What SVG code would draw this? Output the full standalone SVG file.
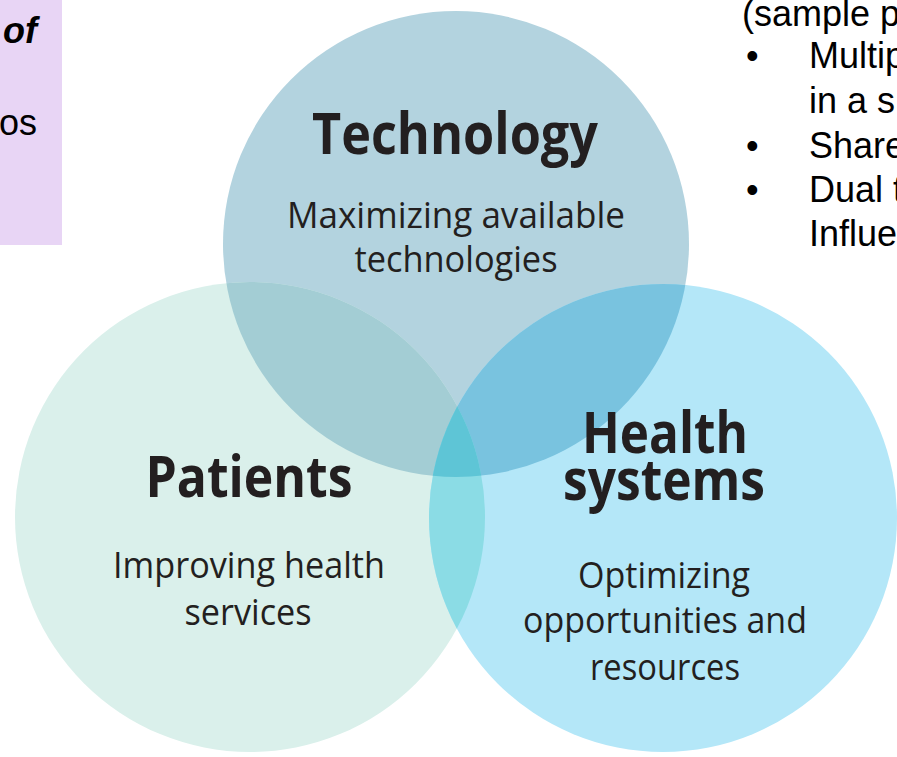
<svg xmlns="http://www.w3.org/2000/svg" width="897" height="757" viewBox="0 0 897 757">
<style>
.h{font-family:"Open Sans","Noto Sans",sans-serif;font-weight:700;font-size:58px;fill:#231f20;text-anchor:middle}
.s{font-family:"Open Sans","Noto Sans",sans-serif;font-weight:400;font-size:36px;fill:#231f20;text-anchor:middle}
.a{font-family:"Liberation Sans",Arial,sans-serif;font-size:36px;fill:#000}
</style>
<defs>
<clipPath id="cT"><circle cx="456" cy="244" r="233"/></clipPath>
<clipPath id="cP"><circle cx="250" cy="517" r="235"/></clipPath>
<clipPath id="cH"><circle cx="663" cy="518" r="234"/></clipPath>
</defs>
<rect width="897" height="757" fill="#ffffff"/>
<g id="side-left">
<rect x="0" y="0" width="62" height="245" fill="#e8d5f5"/>
<text class="a" x="3" y="43" font-weight="700" font-style="italic">of</text>
<text class="a" x="-1" y="135">os</text>
</g>
<g id="side-right">
<text class="a" x="742" y="26">(sample p</text>
<text class="a" x="746" y="68">•</text>
<text class="a" x="809" y="68">Multip</text>
<text class="a" x="809" y="113">in a s</text>
<text class="a" x="746" y="158">•</text>
<text class="a" x="809" y="158">Share</text>
<text class="a" x="746" y="202">•</text>
<text class="a" x="809" y="202">Dual t</text>
<text class="a" x="809" y="246">Influe</text>
</g>
<g id="circles">
<circle cx="456" cy="244" r="233" fill="#b3d3df"/>
<circle cx="250" cy="517" r="235" fill="#daf0eb"/>
<circle cx="663" cy="518" r="234" fill="#b4e7f8"/>
<g clip-path="url(#cT)"><circle cx="250" cy="517" r="235" fill="#a3cdd4"/><circle cx="663" cy="518" r="234" fill="#79c3df"/></g>
<g clip-path="url(#cP)"><circle cx="663" cy="518" r="234" fill="#8bdce5"/></g>
<g clip-path="url(#cP)"><g clip-path="url(#cT)"><circle cx="663" cy="518" r="234" fill="#5ec5d6"/></g></g>
</g>
<g id="technology">
<text class="h" x="455" y="154" textLength="286" lengthAdjust="spacingAndGlyphs">Technology</text>
<text class="s" x="456" y="228" textLength="338" lengthAdjust="spacingAndGlyphs">Maximizing available</text>
<text class="s" x="456" y="272" textLength="203" lengthAdjust="spacingAndGlyphs">technologies</text>
</g>
<g id="patients">
<text class="h" x="249" y="497" textLength="207" lengthAdjust="spacingAndGlyphs">Patients</text>
<text class="s" x="249" y="578" textLength="272" lengthAdjust="spacingAndGlyphs">Improving health</text>
<text class="s" x="248" y="625" textLength="127" lengthAdjust="spacingAndGlyphs">services</text>
</g>
<g id="health-systems">
<text class="h" x="665" y="453" textLength="166" lengthAdjust="spacingAndGlyphs">Health</text>
<text class="h" x="664" y="500" textLength="202" lengthAdjust="spacingAndGlyphs">systems</text>
<text class="s" x="664" y="588" textLength="172" lengthAdjust="spacingAndGlyphs">Optimizing</text>
<text class="s" x="665" y="633" textLength="284" lengthAdjust="spacingAndGlyphs">opportunities and</text>
<text class="s" x="665" y="680" textLength="150" lengthAdjust="spacingAndGlyphs">resources</text>
</g>
</svg>
